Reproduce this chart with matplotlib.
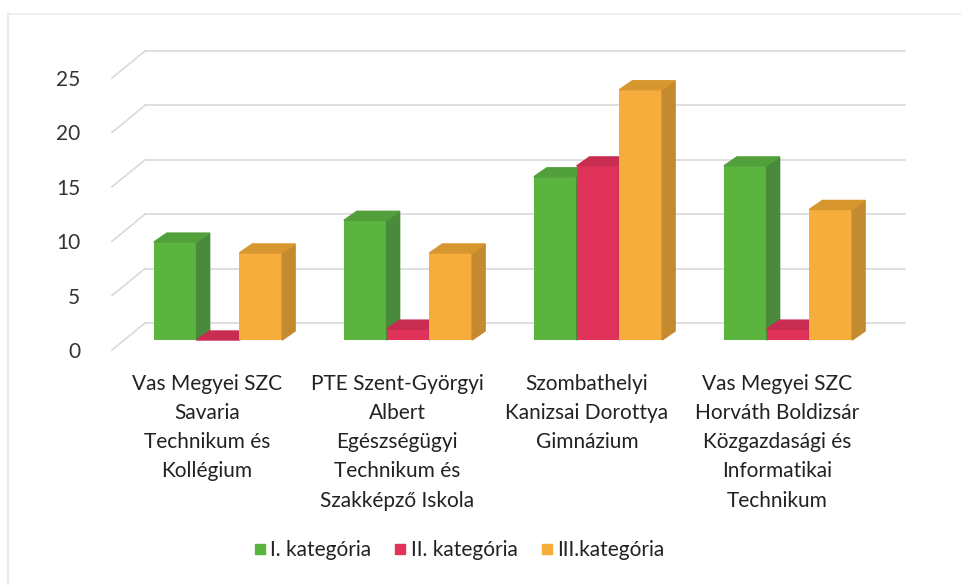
import matplotlib.pyplot as plt
from matplotlib.patches import Polygon
from matplotlib.lines import Line2D

# ── Data ─────────────────────────────────────────────────────────────
SCHOOLS = [
    "Vas Megyei SZC\nSavaria\nTechnikum és\nKollégium",
    "PTE Szent-Györgyi\nAlbert\nEgészségügyi\nTechnikum és\nSzakképző Iskola",
    "Szombathelyi\nKanizsai Dorottya\nGimnázium",
    "Vas Megyei SZC\nHorváth Boldizsár\nKözgazdasági és\nInformatikai\nTechnikum",
]
SERIES = ["I. kategória", "II. kategória", "III.kategória"]
CAT_I = [9, 11, 15, 16]
CAT_II = [0, 1, 16, 1]
CAT_III = [8, 8, 23, 12]
Y_TICKS = [0, 5, 10, 15, 20, 25]

# front / side / top face colours per series
FACES = [
    ("#5bb43e", "#4a8b3b", "#51a03b"),
    ("#e0335a", "#b92a4b", "#c92c51"),
    ("#f6ad3b", "#c48a30", "#d8962f"),
]

plt.rcParams["font.family"] = ["Lato", "DejaVu Sans"]

W, H = 962, 585
fig = plt.figure(figsize=(W / 100, H / 100), dpi=100)

# front plane of the pseudo-3D box, in pixels
L, R, Y0, Y25 = 112, 872, 350, 78
ax = fig.add_axes([L / W, 1 - Y0 / H, (R - L) / W, (Y0 - Y25) / H])
ax.set_xlim(-0.5, 3.5)
ax.set_ylim(0, 25)
for s in ax.spines.values():
    s.set_visible(False)

px_x = 4 / (R - L)          # data units per pixel
px_y = 25 / (Y0 - Y25)

# back wall + diagonals
WDX, WDY = 33 * px_x, 27 * px_y
for v in Y_TICKS:
    ax.plot([-0.5 + WDX, 3.5 + WDX], [v + WDY, v + WDY], color="#d9d9d9",
            lw=1.2, clip_on=False, zorder=1)
    ax.plot([-0.5, -0.5 + WDX], [v, v + WDY], color="#d9d9d9",
            lw=1.2, clip_on=False, zorder=1)

# bars
BW = 0.225
BDX, BDY = 11 * px_x, 10 * px_y     # bar shift behind the front plane
DX, DY = 13 * px_x, 9 * px_y        # bar depth
for j, vals in enumerate([CAT_I, CAT_II, CAT_III]):
    front, side, top = FACES[j]
    xs = [i + (j - 1) * BW + BDX for i in range(len(vals))]
    bars = ax.bar(xs, vals, width=BW, bottom=BDY, color=front,
                  zorder=3 + j, clip_on=False)
    for b in bars:
        x0, w = b.get_x(), b.get_width()
        b0, t = b.get_y(), b.get_y() + b.get_height()
        ax.add_patch(Polygon([(x0 + w, b0), (x0 + w + DX, b0 + DY),
                              (x0 + w + DX, t + DY), (x0 + w, t)],
                             closed=True, color=side, zorder=3 + j, clip_on=False))
        ax.add_patch(Polygon([(x0, t), (x0 + w, t), (x0 + w + DX, t + DY),
                              (x0 + DX, t + DY)],
                             closed=True, color=top, zorder=3 + j, clip_on=False))

ax.set_yticks(Y_TICKS)
ax.set_yticklabels([str(v) for v in Y_TICKS], fontsize=15, color="#333333")
ax.set_xticks(range(len(SCHOOLS)))
ax.set_xticklabels(SCHOOLS, fontsize=15, color="#222222", linespacing=1.58)
ax.tick_params(axis="y", length=0, pad=23)
ax.tick_params(axis="x", length=0, pad=17)

handles = [Line2D([], [], marker="s", linestyle="none", markersize=7.5,
                  markerfacecolor=f[0], markeredgecolor=f[0]) for f in FACES]
fig.legend(handles, SERIES, loc="center", bbox_to_anchor=(458 / W, 1 - 550 / H),
           ncol=3, frameon=False, fontsize=15, handletextpad=0.1,
           columnspacing=1.0, handlelength=0.8, labelcolor="#222222")

# faint outline of the scanned chart area
fig.add_artist(Line2D([8 / W, 8 / W], [0, 1 - 14 / H], color="#e4e4e4", lw=1.2))
fig.add_artist(Line2D([8 / W, 1], [1 - 14 / H, 1 - 14 / H], color="#ececec", lw=1.2))

fig.savefig("out.png", dpi=100)
